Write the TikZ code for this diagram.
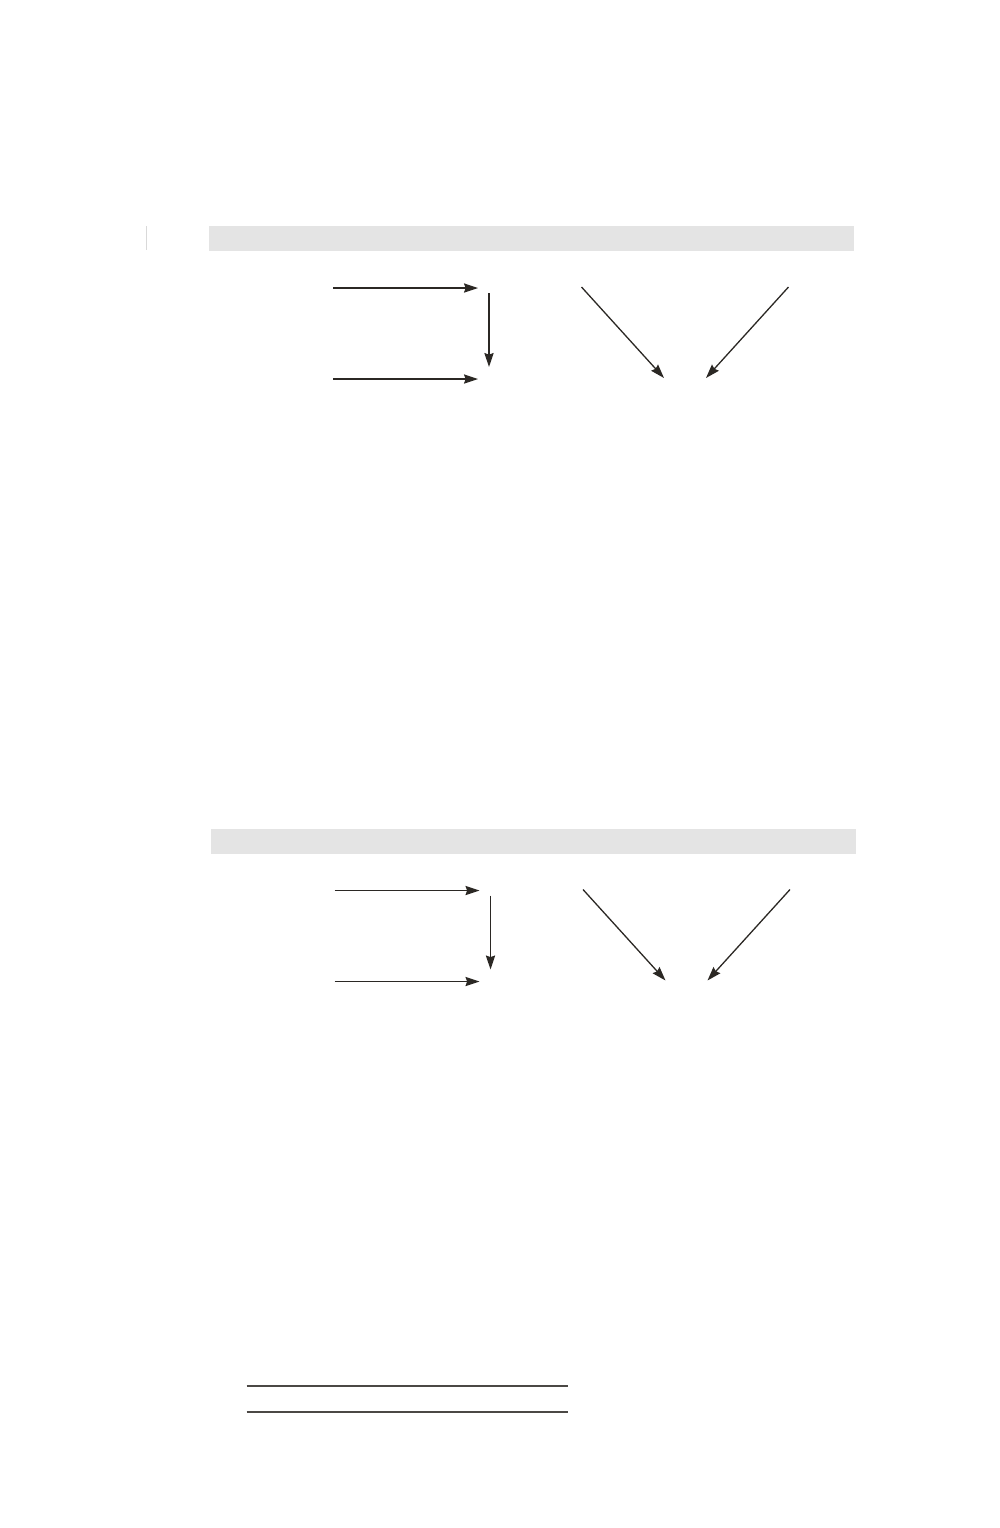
\documentclass[tikz,border=0pt]{standalone}
\usetikzlibrary{arrows.meta}
\definecolor{bargray}{HTML}{E4E4E4}
\definecolor{inkgray}{HTML}{2B2824}
\tikzset{
  pfeil/.style={draw=inkgray, line width=0.65pt, -{Stealth[length=7pt,width=4.6pt,inset=0.8pt]}},
  balken/.style={fill=bargray, draw=none},
  strich/.style={draw=inkgray!85, line width=0.7pt}
}
\begin{document}
\begin{tikzpicture}[x=0.5pt, y=-0.5pt]
  \useasboundingbox (0,0) rectangle (1000,1528);

  % first block
  \begin{scope}[shift={(0,0)}]
    \draw[black!15, line width=0.5pt] (146,226) -- (146,250);
    \fill[balken] (209,226) rectangle (854,251);
    \coordinate (oa1) at (333,288);   \coordinate (oe1) at (478,288);
    \coordinate (ua1) at (333,379);   \coordinate (ue1) at (478,379);
    \coordinate (sa1) at (489,293);   \coordinate (se1) at (489,367);
    \coordinate (la1) at (581.5,287); \coordinate (le1) at (664,378);
    \coordinate (ra1) at (788.5,287); \coordinate (re1) at (706,378);
    \draw[pfeil] (oa1) -- (oe1);
    \draw[pfeil] (ua1) -- (ue1);
    \draw[pfeil] (sa1) -- (se1);
    \draw[pfeil] (la1) -- (le1);
    \draw[pfeil] (ra1) -- (re1);
  \end{scope}

  % second block
  \begin{scope}[shift={(1.5,602.5)}]
    \fill[balken] (209,226) rectangle (854,251);
    \coordinate (oa2) at (333,288);   \coordinate (oe2) at (478,288);
    \coordinate (ua2) at (333,379);   \coordinate (ue2) at (478,379);
    \coordinate (sa2) at (489,293);   \coordinate (se2) at (489,367);
    \coordinate (la2) at (581.5,287); \coordinate (le2) at (664,378);
    \coordinate (ra2) at (788.5,287); \coordinate (re2) at (706,378);
    \draw[pfeil] (oa2) -- (oe2);
    \draw[pfeil] (ua2) -- (ue2);
    \draw[pfeil] (sa2) -- (se2);
    \draw[pfeil] (la2) -- (le2);
    \draw[pfeil] (ra2) -- (re2);
  \end{scope}

  % lines at the bottom
  \coordinate (fa) at (246.5,1386); \coordinate (fe) at (568,1386);
  \coordinate (ga) at (246.5,1412); \coordinate (ge) at (568,1412);
  \draw[strich] (fa) -- (fe);
  \draw[strich] (ga) -- (ge);
\end{tikzpicture}
\end{document}
